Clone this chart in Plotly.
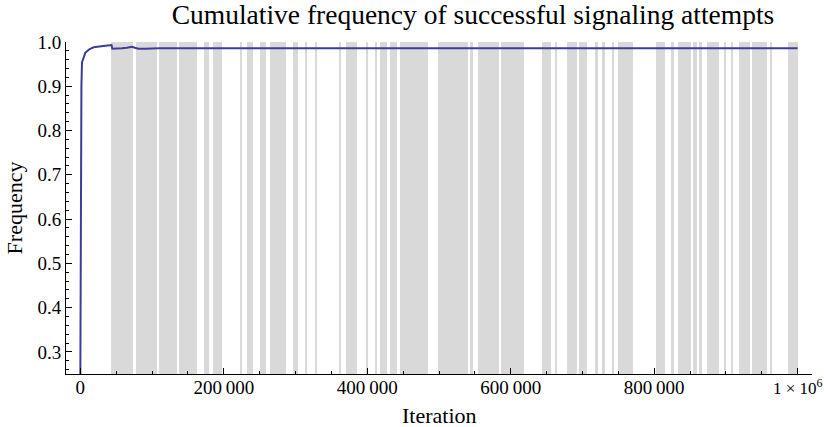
import plotly.graph_objects as go

# Cumulative fraction of successful attempts, sampled along the run
iterations = [0, 500, 1000, 1500, 2300, 4600, 7000, 9300, 13000, 18600, 25000,
              32000, 38000, 42000, 43500, 44500, 50000, 58000, 65000, 72000,
              76000, 81000, 90000, 110000, 150000, 200000, 300000, 400000,
              500000, 600000, 700000, 800000, 900000, 1000000]
frequency = [0.25, 0.55, 0.80, 0.90, 0.954, 0.966, 0.976, 0.979, 0.984, 0.988,
             0.990, 0.991, 0.992, 0.993, 0.993, 0.985, 0.985, 0.986, 0.987,
             0.989, 0.987, 0.985, 0.985, 0.986, 0.986, 0.986, 0.986, 0.986,
             0.986, 0.986, 0.986, 0.986, 0.986, 0.986]

# Iteration intervals that are shaded in the background
band_start = [43000, 77000, 110000, 138000, 173000, 185000, 223000, 233000,
              250000, 265000, 296000, 314000, 328000, 361000, 371000, 399000,
              411000, 418000, 432000, 446000, 499000, 527000, 543000, 554000,
              586000, 644000, 662000, 679000, 695000, 718000, 727000, 742000,
              749000, 803000, 823000, 833000, 854000, 862000, 873000, 897000,
              907000, 918000, 936000, 962000, 987000]
band_end = [74000, 107000, 135000, 163000, 180000, 198000, 226000, 240000,
            259000, 286000, 303000, 316000, 330000, 364000, 385000, 401000,
            414000, 428000, 442000, 485000, 526000, 540000, 547000, 583000,
            618000, 656000, 665000, 692000, 706000, 722000, 731000, 744000,
            770000, 815000, 827000, 851000, 859000, 866000, 890000, 900000,
            910000, 933000, 957000, 964000, 1000000]

y_min, y_max = 0.25, 1.0

x_tickvals = [0, 200000, 400000, 600000, 800000, 1000000]
x_ticktext = ["0", "200\u2009000", "400\u2009000", "600\u2009000", "800\u2009000",
              "<span style='font-size:17px'>1 \u00d7 10<sup>6</sup></span>"]
y_tickvals = [0.3, 0.4, 0.5, 0.6, 0.7, 0.8, 0.9, 1.0]
y_ticktext = ["0.3", "0.4", "0.5", "0.6", "0.7", "0.8", "0.9", "1.0"]

serif = "Liberation Serif, Times New Roman, serif"

fig = go.Figure()

fig.add_trace(go.Bar(
    x=[(s + e) / 2 for s, e in zip(band_start, band_end)],
    width=[e - s for s, e in zip(band_start, band_end)],
    y=[y_max - y_min] * len(band_start),
    base=y_min,
    marker=dict(color="#d9d9d9", line=dict(width=0)),
    hoverinfo="skip",
    showlegend=False,
))

fig.add_trace(go.Scatter(
    x=iterations, y=frequency, mode="lines",
    line=dict(color="#3d3d99", width=2),
    showlegend=False,
))

fig.update_layout(
    template="none",
    width=824, height=427,
    margin=dict(l=66, r=12, t=42, b=53, autoexpand=False),
    paper_bgcolor="white", plot_bgcolor="white",
    font=dict(family=serif, color="black"),
    bargap=0,
    title=dict(text="Cumulative frequency of successful signaling attempts",
               font=dict(size=27.5, family=serif),
               x=0.574, xanchor="center", y=0.966, yanchor="middle"),
)

# x-axis title placed just under the tick labels
fig.add_annotation(
    text="Iteration", xref="paper", yref="paper",
    x=0.5, y=-0.124, xanchor="center", yanchor="middle",
    showarrow=False, font=dict(size=22, family=serif, color="black"),
)

fig.update_xaxes(
    automargin=False,
    range=[-20000, 1020000],
    tickvals=x_tickvals, ticktext=x_ticktext,
    tickfont=dict(size=19),
    ticklabeloverflow="allow",
    ticklabelstandoff=-4,
    ticks="inside", ticklen=6, tickcolor="black", tickwidth=1,
    minor=dict(dtick=50000, tick0=0, ticks="inside", ticklen=3,
               tickcolor="black", tickwidth=1, showgrid=False),
    showline=True, linecolor="black", linewidth=1,
    showgrid=False, zeroline=False,
)

fig.update_yaxes(
    automargin=False,
    range=[y_min, y_max],
    tickvals=y_tickvals, ticktext=y_ticktext,
    tickfont=dict(size=19),
    ticks="inside", ticklen=6, tickcolor="black", tickwidth=1,
    minor=dict(dtick=0.02, tick0=0.3, ticks="inside", ticklen=3,
               tickcolor="black", tickwidth=1, showgrid=False),
    showline=True, linecolor="black", linewidth=1,
    showgrid=False, zeroline=False,
    title=dict(text="Frequency", font=dict(size=22), standoff=8),
)

fig.write_html("out.html")
